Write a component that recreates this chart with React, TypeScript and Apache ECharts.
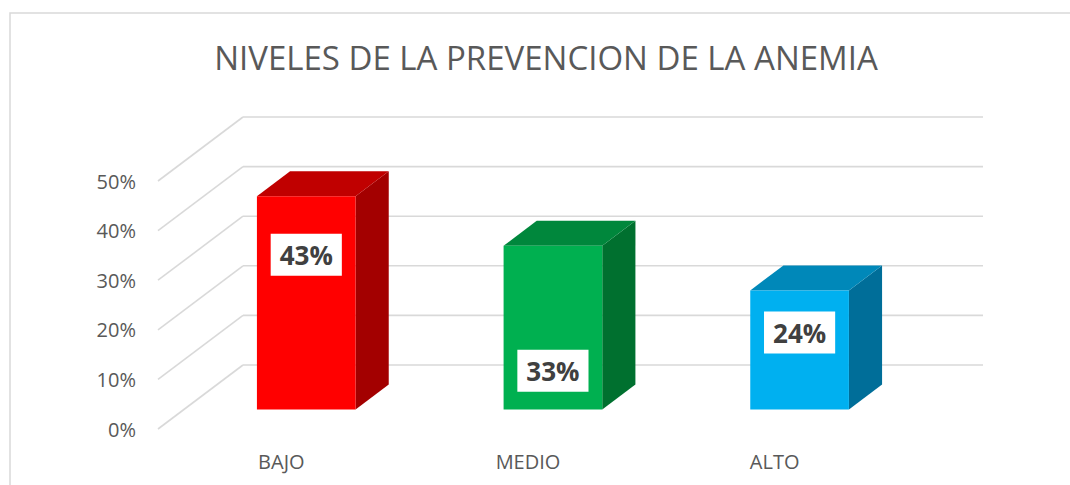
import React, { useEffect, useRef } from "react";
import * as echarts from "echarts";

const titleText = "NIVELES DE LA PREVENCION DE LA ANEMIA";
const categories = ["BAJO", "MEDIO", "ALTO"];
const values = [43, 33, 24];
const valueLabels = ["43%", "33%", "24%"];
const yTicks = [0, 10, 20, 30, 40, 50];
// where each data label box sits, in axis value units (as placed in the original)
const labelAnchors = [31.2, 7.8, 15.5];

const frontColors = ["#FF0000", "#00B050", "#00B0F0"];
const topColors = ["#C00000", "#00873C", "#0088B9"];
const sideColors = ["#A30000", "#00702F", "#006E99"];

const DX = 85; // depth of the 3D floor, x
const DY = 64; // depth of the 3D floor, y
const F0 = 0.305; // bar front depth fraction
const F1 = 0.695; // bar back depth fraction
const BAR_W = 0.4; // bar width as fraction of category
const FONT = '"Open Sans", "Noto Sans", sans-serif';

export default function App() {
  const ref = useRef<HTMLDivElement>(null);
  useEffect(() => {
    if (!ref.current) return;
    const chart = echarts.init(ref.current, undefined, { renderer: "svg" });
    const gridColor = "#D9D9D9";
    const option: any = {
      animation: false,
      backgroundColor: "#fff",
      graphic: [
        {
          type: "rect",
          shape: { x: 10, y: 13, width: 1075, height: 500 },
          style: { fill: "none", stroke: gridColor, lineWidth: 1.5 },
          silent: true,
        },
        {
          type: "text",
          x: 546,
          y: 57,
          style: {
            text: titleText,
            font: '33px "Open Sans", "Noto Sans", sans-serif',
            fill: "#595959",
            align: "center",
            verticalAlign: "middle",
          },
          silent: true,
        },
      ],
      grid: { left: 158, width: 740, top: 181, height: 248 },
      xAxis: {
        type: "category",
        data: categories,
        axisLine: { show: false },
        axisTick: { show: false },
        axisLabel: {
          margin: 22,
          fontSize: 20,
          fontFamily: FONT,
          color: "#595959",
        },
      },
      yAxis: {
        type: "value",
        min: 0,
        max: 50,
        interval: 10,
        splitLine: { show: false },
        axisLine: { show: false },
        axisTick: { show: false },
        axisLabel: {
          formatter: "{value}%",
          margin: 22,
          fontSize: 20,
          fontFamily: FONT,
          color: "#595959",
        },
      },
      series: [
        {
          type: "custom",
          z: 1,
          silent: true,
          data: yTicks.map((t) => [0, t]),
          encode: { x: 0, y: 1 },
          renderItem: (params: any, api: any) => {
            const cs = params.coordSys;
            const p = api.coord([0, api.value(1)]);
            const y = p[1];
            const x0 = cs.x;
            return {
              type: "group",
              children: [
                {
                  type: "line",
                  shape: { x1: x0, y1: y, x2: x0 + DX, y2: y - DY },
                  style: { stroke: gridColor, lineWidth: 1.6 },
                },
                {
                  type: "line",
                  shape: {
                    x1: x0 + DX,
                    y1: y - DY,
                    x2: x0 + cs.width + DX,
                    y2: y - DY,
                  },
                  style: { stroke: gridColor, lineWidth: 1.6 },
                },
              ],
            };
          },
        },
        {
          type: "custom",
          z: 2,
          data: values.map((v, i) => [i, v]),
          encode: { x: 0, y: 1 },
          renderItem: (params: any, api: any) => {
            const i = api.value(0);
            const v = api.value(1);
            const base = api.coord([i, 0]);
            const top = api.coord([i, v]);
            const w = api.size([1, 0])[0] * BAR_W;
            const fx = base[0] - w / 2 + DX * F0 - 1;
            const fy0 = base[1] - DY * F0;
            const fy1 = top[1] - DY * F0;
            const bdx = DX * (F1 - F0);
            const bdy = DY * (F1 - F0);
            const lab = api.coord([i, labelAnchors[i]]);
            return {
              type: "group",
              children: [
                {
                  type: "polygon",
                  shape: {
                    points: [
                      [fx + w, fy0],
                      [fx + w + bdx, fy0 - bdy],
                      [fx + w + bdx, fy1 - bdy],
                      [fx + w, fy1],
                    ],
                  },
                  style: { fill: sideColors[i] },
                },
                {
                  type: "polygon",
                  shape: {
                    points: [
                      [fx, fy1],
                      [fx + w, fy1],
                      [fx + w + bdx, fy1 - bdy],
                      [fx + bdx, fy1 - bdy],
                    ],
                  },
                  style: { fill: topColors[i] },
                },
                {
                  type: "rect",
                  shape: { x: fx, y: fy1, width: w, height: fy0 - fy1 },
                  style: { fill: frontColors[i] },
                },
                {
                  type: "text",
                  x: fx + w / 2,
                  y: lab[1] - DY * F0,
                  style: {
                    text: valueLabels[i],
                    fill: "#404040",
                    font: 'bold 26px "Open Sans", "Noto Sans", sans-serif',
                    align: "center",
                    verticalAlign: "middle",
                    backgroundColor: "#FFFFFF",
                    padding: [8, 9, 8, 9],
                  },
                },
              ],
            };
          },
        },
      ],
    };
    chart.setOption(option);
    return () => chart.dispose();
  }, []);
  return (
    <div
      ref={ref}
      style={{ position: "fixed", left: 0, top: 0, width: 1070, height: 485 }}
    />
  );
}
